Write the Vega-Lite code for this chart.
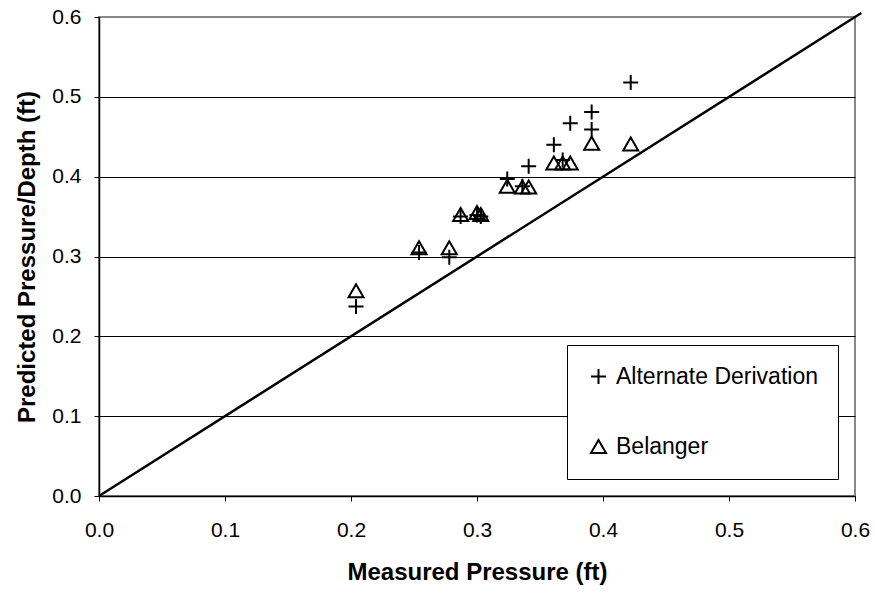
{
  "$schema": "https://vega.github.io/schema/vega-lite/v6.json",
  "width": 756,
  "height": 479,
  "autosize": {"type": "none"},
  "padding": {"left": 99, "top": 17, "right": 20, "bottom": 98},
  "background": "white",
  "config": {
    "view": {"stroke": "#888888", "strokeWidth": 2},
    "font": "Liberation Sans"
  },
  "layer": [
    {
      "data": {"values": [{"x": 0, "y": 0}, {"x": 0.605, "y": 0.605}]},
      "mark": {"type": "line", "color": "black", "strokeWidth": 2.5, "clip": false},
      "encoding": {
        "x": {
          "field": "x", "type": "quantitative",
          "scale": {"domain": [0, 0.6], "nice": false, "zero": true},
          "axis": {
            "title": "Measured Pressure (ft)",
            "values": [0, 0.1, 0.2, 0.3, 0.4, 0.5, 0.6],
            "format": ".1f",
            "grid": false,
            "domainColor": "black", "domainWidth": 1.5,
            "tickColor": "black", "tickSize": 5, "tickWidth": 1,
            "labelFontSize": 21, "labelColor": "black", "labelPadding": 18, "labelFlush": false,
            "titleFontSize": 24, "titleFontWeight": "bold", "titleColor": "black", "titlePadding": 20
          }
        },
        "y": {
          "field": "y", "type": "quantitative",
          "scale": {"domain": [0, 0.6], "nice": false, "zero": true},
          "axis": {
            "title": "Predicted Pressure/Depth (ft)",
            "values": [0, 0.1, 0.2, 0.3, 0.4, 0.5, 0.6],
            "format": ".1f",
            "grid": true,
            "gridColor": {"condition": {"test": "datum.value >= 0.59", "value": "#888888"}, "value": "black"},
            "gridWidth": 1,
            "domainColor": "black", "domainWidth": 1.5,
            "tickColor": "black", "tickSize": 5, "tickWidth": 1,
            "labelFontSize": 21, "labelColor": "black", "labelPadding": 13, "labelFlush": false,
            "titleFontSize": 24, "titleFontWeight": "bold", "titleColor": "black", "titlePadding": 12
          }
        }
      }
    },
    {
      "data": {
        "values": [
          {"x": 0.204, "y": 0.2375, "series": "Alternate Derivation"},
          {"x": 0.254, "y": 0.305, "series": "Alternate Derivation"},
          {"x": 0.278, "y": 0.299, "series": "Alternate Derivation"},
          {"x": 0.287, "y": 0.350, "series": "Alternate Derivation"},
          {"x": 0.300, "y": 0.352, "series": "Alternate Derivation"},
          {"x": 0.303, "y": 0.350, "series": "Alternate Derivation"},
          {"x": 0.324, "y": 0.397, "series": "Alternate Derivation"},
          {"x": 0.336, "y": 0.388, "series": "Alternate Derivation"},
          {"x": 0.341, "y": 0.413, "series": "Alternate Derivation"},
          {"x": 0.361, "y": 0.440, "series": "Alternate Derivation"},
          {"x": 0.368, "y": 0.421, "series": "Alternate Derivation"},
          {"x": 0.374, "y": 0.467, "series": "Alternate Derivation"},
          {"x": 0.391, "y": 0.481, "series": "Alternate Derivation"},
          {"x": 0.391, "y": 0.459, "series": "Alternate Derivation"},
          {"x": 0.422, "y": 0.518, "series": "Alternate Derivation"},
          {"x": 0.204, "y": 0.257, "series": "Belanger"},
          {"x": 0.254, "y": 0.311, "series": "Belanger"},
          {"x": 0.278, "y": 0.311, "series": "Belanger"},
          {"x": 0.287, "y": 0.3525, "series": "Belanger"},
          {"x": 0.300, "y": 0.355, "series": "Belanger"},
          {"x": 0.303, "y": 0.3525, "series": "Belanger"},
          {"x": 0.324, "y": 0.388, "series": "Belanger"},
          {"x": 0.336, "y": 0.387, "series": "Belanger"},
          {"x": 0.341, "y": 0.387, "series": "Belanger"},
          {"x": 0.361, "y": 0.417, "series": "Belanger"},
          {"x": 0.368, "y": 0.417, "series": "Belanger"},
          {"x": 0.374, "y": 0.417, "series": "Belanger"},
          {"x": 0.391, "y": 0.442, "series": "Belanger"},
          {"x": 0.422, "y": 0.441, "series": "Belanger"}
        ]
      },
      "mark": {"type": "point", "filled": false, "color": "black", "strokeWidth": 2, "size": 225, "opacity": 1},
      "encoding": {
        "x": {"field": "x", "type": "quantitative"},
        "y": {"field": "y", "type": "quantitative"},
        "shape": {
          "field": "series", "type": "nominal",
          "scale": {"domain": ["Alternate Derivation", "Belanger"], "range": ["M-1,0L1,0M0,-1L0,1", "triangle-up"]},
          "legend": {
            "title": null,
            "orient": "bottom-right",
            "offset": 17,
            "strokeColor": "black",
            "fillColor": "white",
            "padding": 20,
            "rowPadding": 46,
            "labelFontSize": 23,
            "labelLimit": 0,
            "labelColor": "black",
            "labelOffset": 6,
            "symbolSize": 225,
            "symbolStrokeWidth": 2,
            "symbolStrokeColor": "black",
            "symbolFillColor": "transparent",
            "symbolOpacity": 1,
            "cornerRadius": 0
          }
        }
      }
    }
  ]
}
